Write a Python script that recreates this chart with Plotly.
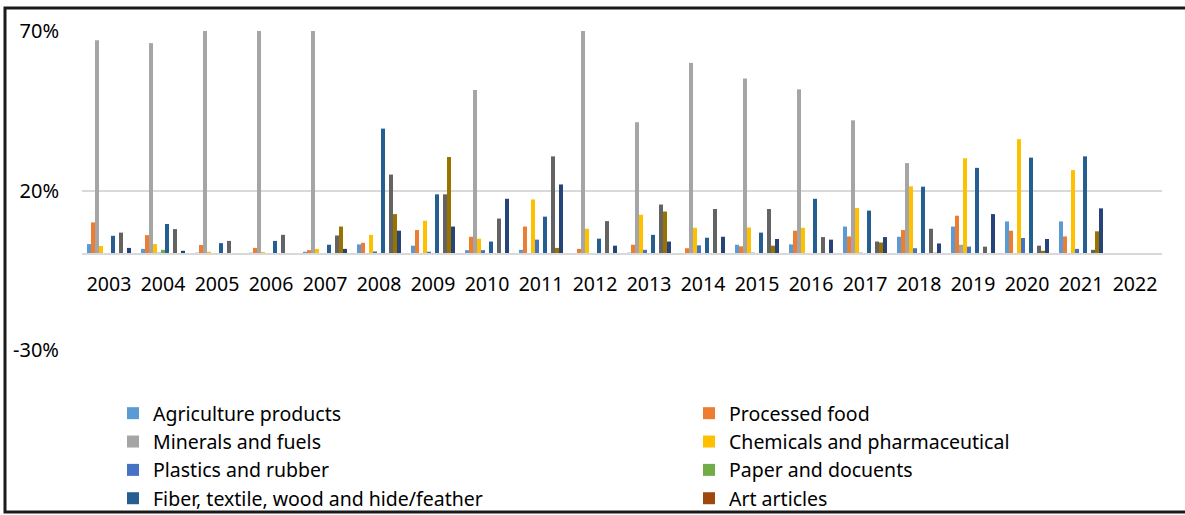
import plotly.graph_objects as go

years = [str(y) for y in range(2003, 2023)]
y_tick_vals = [-30, 20, 70]
y_tick_text = ["-30%", "20%", "70%"]

agriculture = [3.2, 1.7, 0.5, 0.5, 0.8, 3.1, 2.7, 1.3, 1.4, 0.2, 0.5, 0.2, 3.0, 3.1, 8.7, 5.5, 8.7, 10.3, 10.3, None]
processed_food = [10.0, 6.0, 2.9, 2.0, 1.3, 3.6, 7.6, 5.5, 8.7, 1.7, 3.0, 1.9, 2.5, 7.4, 5.6, 7.6, 12.1, 7.4, 5.6, None]
minerals = [67.1, 66.2, 75.0, 75.0, 75.0, 0.0, 0.0, 51.5, 0.0, 75.0, 41.4, 60.0, 55.1, 51.7, 42.0, 28.6, 3.0, 0.3, 0.2, None]
chemicals = [2.6, 3.2, 0.8, 0.7, 1.7, 6.1, 10.5, 4.9, 17.2, 8.0, 12.4, 8.3, 8.4, 8.3, 14.5, 21.3, 30.1, 36.1, 26.4, None]
plastics = [0.3, 0.5, 0.1, 0.1, 0.4, 0.9, 0.8, 1.3, 4.6, 0.4, 1.4, 2.8, 0.5, 0.3, 0.5, 1.9, 2.4, 5.1, 1.7, None]
paper = [0.1, 1.4, 0.1, 0.1, 0.1, 0.1, 0.1, 0.3, 0.1, 0.1, 0.1, 0.1, 0.1, 0.1, 0.1, 0.1, 0.1, 0.1, 0.1, None]
fiber = [5.8, 9.5, 3.5, 4.2, 3.0, 39.4, 18.8, 4.0, 11.8, 4.9, 6.1, 5.2, 6.8, 17.4, 13.7, 21.2, 27.1, 30.3, 30.7, None]
art = [0.1, 0.1, 0.1, 0.1, 0.1, 0.1, 0.1, 0.1, 0.1, 0.1, 0.1, 0.1, 0.1, 0.1, 0.1, 0.1, 0.1, 0.1, 0.1, None]
series9 = [6.8, 7.9, 4.2, 6.1, 5.9, 25.0, 18.8, 11.2, 30.7, 10.4, 15.6, 14.2, 14.2, 5.4, 4.0, 8.0, 2.4, 2.7, 1.4, None]
series10 = [0.1, 0.1, 0.0, 0.0, 8.7, 12.6, 30.5, 0.3, 2.0, 0.0, 13.4, 0.0, 2.7, 0.1, 3.7, 0.5, 0.0, 1.1, 7.2, None]
series11 = [2.0, 1.1, 0.4, 0.3, 1.7, 7.4, 8.7, 17.4, 21.9, 2.7, 4.0, 5.5, 4.8, 4.6, 5.4, 3.4, 12.6, 4.8, 14.4, None]

series = [
    ("Agriculture products", agriculture, "#5B9BD5", "legend"),
    ("Processed food", processed_food, "#ED7D31", "legend2"),
    ("Minerals and fuels", minerals, "#A5A5A5", "legend"),
    ("Chemicals and pharmaceutical", chemicals, "#FFC000", "legend2"),
    ("Plastics and rubber", plastics, "#4472C4", "legend"),
    ("Paper and docuents", paper, "#70AD47", "legend2"),
    ("Fiber, textile, wood and hide/feather", fiber, "#255E91", "legend"),
    ("Art articles", art, "#9E480E", "legend2"),
    ("Series 9", series9, "#636363", None),
    ("Series 10", series10, "#997300", None),
    ("Series 11", series11, "#264478", None),
]

FONT = "Noto Sans"

fig = go.Figure()
for i, (name, vals, color, lg) in enumerate(series):
    kw = dict(name=name, x=years, y=vals, legendgroup="g%d" % i,
              marker=dict(color=color, line=dict(width=0)))
    if lg is None:
        kw["showlegend"] = False
    else:
        kw["legend"] = lg
    fig.add_trace(go.Bar(**kw))

W, H = 1185, 515
L, R, T, B = 82, 23, 31, 165
pw, ph = W - L - R, H - T - B

def px_x(p):
    return (p - L) / pw

def px_y(p):
    return (H - B - p) / ph

legend_common = dict(xanchor="left", yanchor="top", traceorder="grouped",
                     font=dict(family=FONT, size=19.5, color="#000"), tracegroupgap=0,
                     bgcolor="rgba(0,0,0,0)")

fig.update_layout(
    width=W, height=H,
    margin=dict(l=L, r=R, t=T, b=B, autoexpand=False),
    paper_bgcolor="white", plot_bgcolor="white",
    barmode="group", bargap=0.185, bargroupgap=0,
    font=dict(family=FONT, color="#000000"),
    xaxis=dict(type="category", anchor="free", position=0.3, showline=True,
               linecolor="#d9d9d9", linewidth=2, showgrid=False, ticks="",
               tickfont=dict(family=FONT, size=19.5, color="#000"), ticklabelstandoff=12),
    yaxis=dict(range=[-30, 70], tickvals=y_tick_vals, ticktext=y_tick_text,
               showgrid=True, gridcolor="#d9d9d9", gridwidth=2, zeroline=False,
               showline=False, ticks="", tickfont=dict(family=FONT, size=20, color="#000"),
               ticklabelstandoff=22),
    legend=dict(x=px_x(113), y=px_y(394), **legend_common),
    legend2=dict(x=px_x(689), y=px_y(394), **legend_common),
    shapes=[dict(type="rect", xref="paper", yref="paper",
                 x0=px_x(5), x1=px_x(1195), y0=px_y(512), y1=px_y(8),
                 line=dict(color="#1a1a1a", width=3), fillcolor="rgba(0,0,0,0)", layer="above")],
)

fig.write_html("out.html", config={"displayModeBar": False},
               post_script="document.body.style.margin='0px';")
